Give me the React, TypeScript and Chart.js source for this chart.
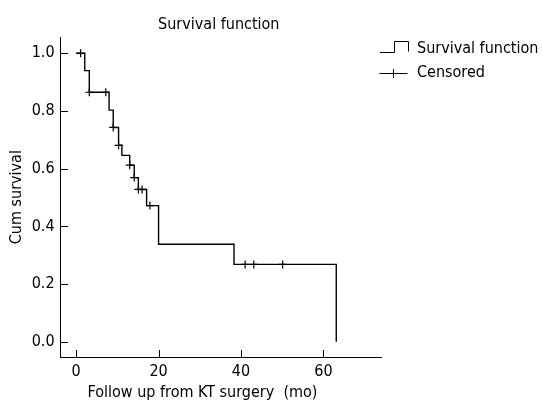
import React, { useEffect, useRef } from "react";
import { Chart, registerables } from "chart.js";

Chart.register(...registerables);

// ---- Text ----
const TITLE = "Survival function";
const X_TITLE = "Follow up from KT surgery  (mo)";
const Y_TITLE = "Cum survival";
const LEGEND_LABELS = ["Survival function", "Censored"];

// ---- Data (Kaplan-Meier estimate) ----
const stepTimes = [0, 2.1, 3.2, 8.0, 9.0, 10.3, 11.1, 13.0, 14.1, 15.1, 17.1, 20.0, 38.3, 63.1];
const stepSurvival = [1.0, 0.94, 0.865, 0.803, 0.743, 0.681, 0.646, 0.612, 0.569, 0.528, 0.472, 0.338, 0.268, 0.0];
const censorTimes = [1.1, 3.2, 7.2, 9.0, 10.3, 13.0, 14.1, 15.1, 16.0, 17.9, 41.0, 43.1, 50.1];
const censorSurvival = [1.0, 0.865, 0.865, 0.743, 0.681, 0.612, 0.569, 0.528, 0.528, 0.472, 0.268, 0.268, 0.268];

// ---- Axes ----
const xTicks = [0, 20, 40, 60];
const yTicks = [0, 0.2, 0.4, 0.6, 0.8, 1.0];
const X_MIN = -3.76;
const X_MAX = 73.95;
const Y_MIN = -0.053;
const Y_MAX = 1.0555;

const W = 543;
const H = 408;
const FONT = "'DejaVu Sans Condensed', 'DejaVu Sans', sans-serif";
const FONT_SIZE = 16;
const INK = "#000";

const decorPlugin = {
  id: "decor",
  afterDraw(chart: any) {
    const { ctx, chartArea, scales } = chart;
    const a = (v: number) => Math.round(v) + 0.5;
    ctx.save();
    ctx.strokeStyle = INK;
    ctx.lineWidth = 1;
    // inward tick marks
    const bottom = Math.round(chartArea.bottom);
    const left = Math.round(chartArea.left);
    xTicks.forEach((v) => {
      const px = a(scales.x.getPixelForValue(v));
      ctx.beginPath();
      ctx.moveTo(px, bottom);
      ctx.lineTo(px, bottom - 7);
      ctx.stroke();
    });
    yTicks.forEach((v) => {
      const py = a(scales.y.getPixelForValue(v));
      ctx.beginPath();
      ctx.moveTo(left, py);
      ctx.lineTo(left + 7, py);
      ctx.stroke();
    });

    // title
    ctx.fillStyle = INK;
    ctx.font = `${FONT_SIZE}px ${FONT}`;
    ctx.textAlign = "center";
    ctx.textBaseline = "alphabetic";
    ctx.fillText(TITLE, (chartArea.left + chartArea.right) / 2 - 2, 29.3);

    // x axis title
    ctx.fillText(X_TITLE, 202.5, 396.5);

    // legend
    const lx = Math.round(chartArea.right) - 1;
    ctx.beginPath();
    ctx.moveTo(lx, 52.5);
    ctx.lineTo(lx + 14.5, 52.5);
    ctx.lineTo(lx + 14.5, 41.5);
    ctx.lineTo(lx + 28.5, 41.5);
    ctx.lineTo(lx + 28.5, 51.5);
    ctx.stroke();

    ctx.beginPath();
    ctx.moveTo(lx - 0.5, 73.5);
    ctx.lineTo(lx + 27.5, 73.5);
    ctx.moveTo(lx + 13.5, 69);
    ctx.lineTo(lx + 13.5, 78);
    ctx.stroke();

    ctx.textAlign = "left";
    ctx.fillText(LEGEND_LABELS[0], lx + 37, 53.3);
    ctx.fillText(LEGEND_LABELS[1], lx + 37, 77.3);
    ctx.restore();
  },
};

export default function App() {
  const canvasRef = useRef<HTMLCanvasElement | null>(null);

  useEffect(() => {
    const canvas = canvasRef.current;
    if (!canvas) return;

    const stepData = stepTimes.map((t, i) => ({ x: t, y: stepSurvival[i] }));
    const censorData = censorTimes.map((t, i) => ({ x: t, y: censorSurvival[i] }));

    const chart = new Chart(canvas, {
      type: "scatter",
      data: {
        datasets: [
          {
            label: LEGEND_LABELS[0],
            data: stepData,
            showLine: true,
            stepped: "before",
            borderColor: INK,
            borderWidth: 1.4,
            pointRadius: 0,
            fill: false,
          },
          {
            label: LEGEND_LABELS[1],
            data: censorData,
            showLine: false,
            pointStyle: "cross",
            pointRadius: 4,
            borderColor: INK,
            borderWidth: 1.2,
            backgroundColor: INK,
          },
        ],
      },
      options: {
        responsive: false,
        animation: false,
        layout: { padding: { top: 37.3, right: 162, left: 0, bottom: 0 } },
        plugins: {
          legend: { display: false },
          title: { display: false },
          tooltip: { enabled: false },
        },
        scales: {
          x: {
            type: "linear",
            min: X_MIN,
            max: X_MAX,
            afterBuildTicks: (scale: any) => {
              scale.ticks = xTicks.map((v) => ({ value: v }));
            },
            afterFit: (scale: any) => {
              scale.height = 51;
            },
            grid: { display: true, drawOnChartArea: false, drawTicks: false },
            border: { display: true, color: INK, width: 1 },
            ticks: {
              color: INK,
              padding: 5,
              maxRotation: 0,
              font: { family: FONT, size: FONT_SIZE },
              callback: (v: any) => String(v),
            },
          },
          y: {
            type: "linear",
            min: Y_MIN,
            max: Y_MAX,
            afterBuildTicks: (scale: any) => {
              scale.ticks = yTicks.map((v) => ({ value: v }));
            },
            afterFit: (scale: any) => {
              scale.width = 60.6;
            },
            grid: { display: true, drawOnChartArea: false, drawTicks: false },
            border: { display: true, color: INK, width: 1 },
            ticks: {
              color: INK,
              padding: 6,
              font: { family: FONT, size: FONT_SIZE },
              callback: (v: any) => Number(v).toFixed(1),
            },
            title: {
              display: true,
              text: Y_TITLE,
              color: INK,
              padding: { top: 7, bottom: 0 },
              font: { family: FONT, size: FONT_SIZE },
            },
          },
        },
      },
      plugins: [decorPlugin],
    });

    return () => chart.destroy();
  }, []);

  return (
    <div style={{ position: "absolute", left: 0, top: 0, width: W, height: H, overflow: "hidden" }}>
      <canvas
        ref={canvasRef}
        width={W}
        height={H}
        style={{ display: "block", width: W, height: H }}
      />
    </div>
  );
}
